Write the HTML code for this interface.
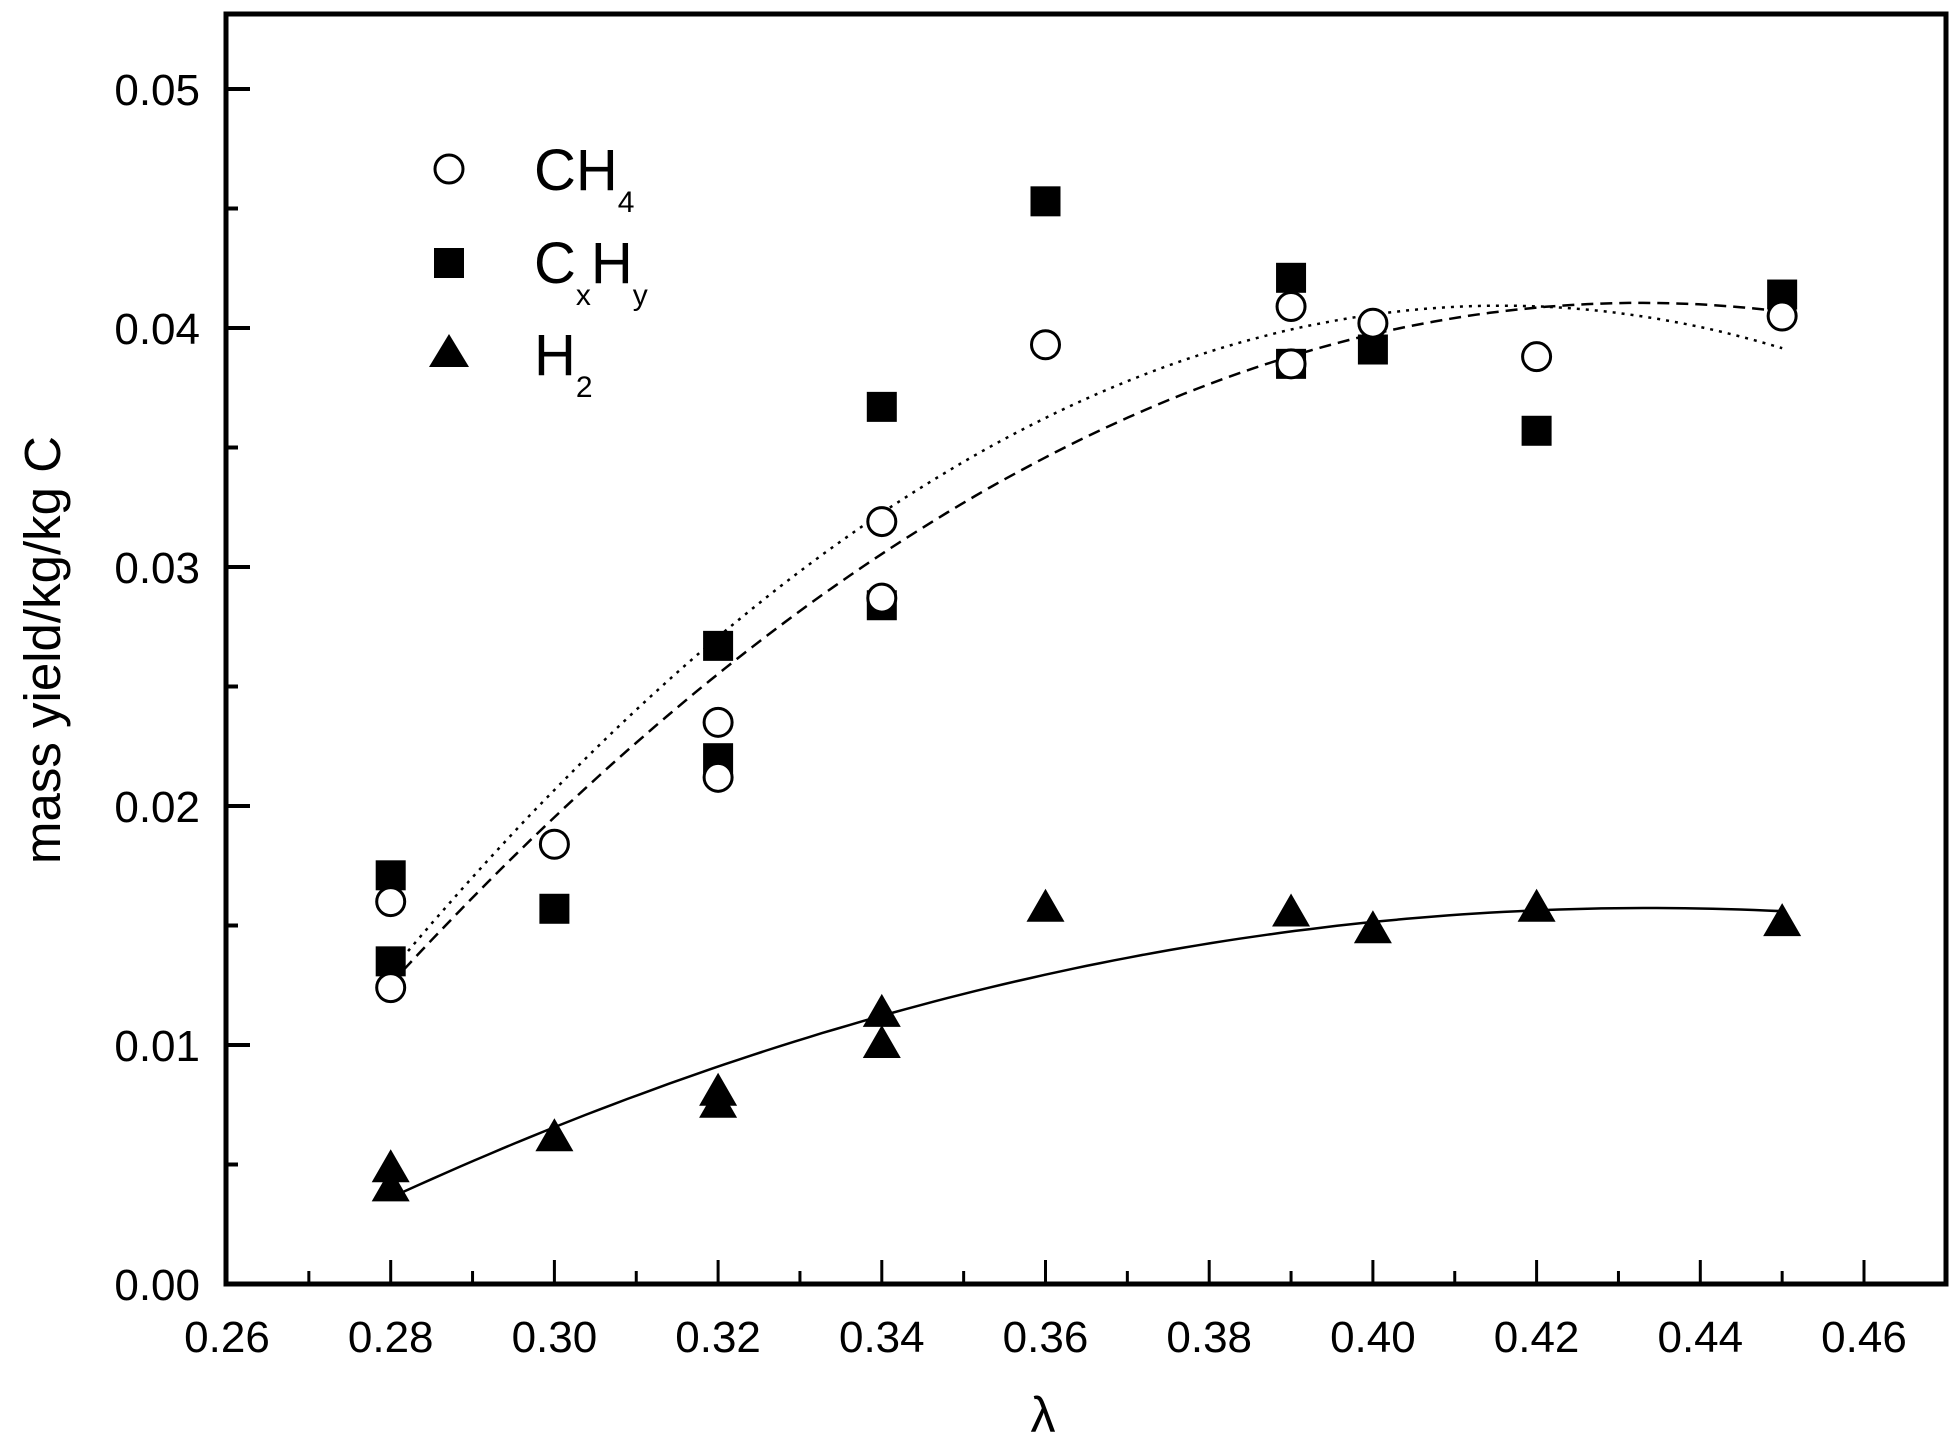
<!DOCTYPE html>
<html><head><meta charset="utf-8"><style>
html,body{margin:0;padding:0;background:#fff;}
svg text{font-family:"Liberation Sans",Arial,sans-serif;fill:#000;}
</style></head><body>
<svg id="chart" width="1953" height="1438" viewBox="0 0 1953 1438" xmlns="http://www.w3.org/2000/svg">
<rect x="0" y="0" width="1953" height="1438" fill="#fff"/>
<g id="axes"></g>
<g id="curves"></g>
<g id="marks"></g>
<text transform="translate(60,650) rotate(-90)" text-anchor="middle" font-size="51">mass yield/kg/kg C</text>
<text x="1043" y="1432" text-anchor="middle" font-size="50">λ</text>
<g>
  <circle cx="449" cy="169" r="14" fill="#fff" stroke="#000" stroke-width="3"/>
  <text x="534" y="190" font-size="58">CH<tspan font-size="30" dy="22">4</tspan></text>
  <rect x="434" y="248" width="30" height="30" fill="#000"/>
  <text x="534" y="283" font-size="58">C<tspan font-size="30" dy="22">x</tspan><tspan dy="-22">H</tspan><tspan font-size="30" dy="22">y</tspan></text>
  <polygon points="449,334 469,367 429,367" fill="#000"/>
  <text x="534" y="375" font-size="58">H<tspan font-size="30" dy="22">2</tspan></text>
</g>
</svg>
<script>
const xsCH4 = [0.28,0.28,0.30,0.32,0.32,0.34,0.34,0.36,0.39,0.39,0.40,0.42,0.45];
const valsCH4 = [0.0160,0.0124,0.0184,0.0235,0.0212,0.0319,0.0287,0.0393,0.0409,0.0385,0.0402,0.0388,0.0405];
const xsCxHy = [0.28,0.28,0.30,0.32,0.32,0.34,0.34,0.36,0.39,0.39,0.40,0.42,0.45];
const valsCxHy = [0.0171,0.0135,0.0157,0.0267,0.0220,0.0367,0.0284,0.0453,0.0421,0.0385,0.0391,0.0357,0.0414];
const xsH2 = [0.28,0.28,0.30,0.32,0.32,0.34,0.34,0.36,0.39,0.40,0.42,0.45];
const valsH2 = [0.0048,0.0040,0.0061,0.0080,0.0075,0.0113,0.0100,0.0157,0.0155,0.0148,0.0157,0.0151];
const xTickLabels = ["0.26","0.28","0.30","0.32","0.34","0.36","0.38","0.40","0.42","0.44","0.46"];
const yTickLabels = ["0.00","0.01","0.02","0.03","0.04","0.05"];

const NS="http://www.w3.org/2000/svg";
const X0=226, XR=1946, YT=14, YB=1284;
function sx(v){return 227+(v-0.26)/0.02*163.7;}
function sy(v){return 1284-v/0.01*239;}
function mk(tag,attrs,parent){const e=document.createElementNS(NS,tag);for(const k in attrs)e.setAttribute(k,attrs[k]);parent.appendChild(e);return e;}
const axes=document.getElementById('axes');
const frame=mk('rect',{x:X0,y:YT,width:XR-X0,height:YB-YT,fill:'none',stroke:'#000','stroke-width':5},axes);


xTickLabels.forEach((t,i)=>{
  const v=parseFloat(t);const x=sx(v);
  const tk=mk('line',{x1:x,y1:YB,x2:x,y2:YB-24,stroke:'#000','stroke-width':3},axes);
  
  
  if(i<xTickLabels.length-1){const xm=sx(v+0.01);
    const mt=mk('line',{x1:xm,y1:YB,x2:xm,y2:YB-13,stroke:'#000','stroke-width':3},axes);
    
    }
  const lb=mk('text',{x:x,y:1352,'text-anchor':'middle','font-size':44},axes);lb.textContent=t;
  
  
});
yTickLabels.forEach((t,i)=>{
  const v=parseFloat(t);const y=sy(v);
  const tk=mk('line',{x1:X0,y1:y,x2:X0+24,y2:y,stroke:'#000','stroke-width':4},axes);
  
  
  const ym=sy(v+0.005);
  const mt=mk('line',{x1:X0,y1:ym,x2:X0+12,y2:ym,stroke:'#000','stroke-width':4},axes);
  
  
  const lb=mk('text',{x:200,y:y+16,'text-anchor':'end','font-size':44},axes);lb.textContent=t;
  
  
});
function quadfit(xs,ys){
  let S=[0,0,0,0,0],T=[0,0,0];
  for(let i=0;i<xs.length;i++){const x=xs[i]-0.36;let p=1;for(let k=0;k<5;k++){S[k]+=p;if(k<3)T[k]+=p*ys[i];p*=x;}}
  const A=[[S[0],S[1],S[2],T[0]],[S[1],S[2],S[3],T[1]],[S[2],S[3],S[4],T[2]]];
  for(let i=0;i<3;i++){for(let j=i+1;j<3;j++){const f=A[j][i]/A[i][i];for(let k=i;k<4;k++)A[j][k]-=f*A[i][k];}}
  const c=[0,0,0];for(let i=2;i>=0;i--){let s=A[i][3];for(let k=i+1;k<3;k++)s-=A[i][k]*c[k];c[i]=s/A[i][i];}
  return x=>c[0]+c[1]*(x-0.36)+c[2]*(x-0.36)**2;
}
const curves=document.getElementById('curves');
function curve(xs,ys,dash,name){
  const f=quadfit(xs,ys);let d='';
  for(let i=0;i<=100;i++){const x=0.28+0.17*i/100;d+=(i?'L':'M')+sx(x).toFixed(1)+','+sy(f(x)).toFixed(1);}
  const p=mk('path',{d:d,fill:'none',stroke:'#000','stroke-width':2.5,'stroke-dasharray':dash},curves);
  
  
}
curve(xsCH4,valsCH4,'12,7','ch4-fit-curve');
curve(xsCxHy,valsCxHy,'3,6','cxhy-fit-curve');
curve(xsH2,valsH2,'none','h2-fit-curve');
const marks=document.getElementById('marks');
xsCxHy.forEach((x,i)=>{const r=mk('rect',{x:sx(x)-15,y:sy(valsCxHy[i])-15,width:30,height:30,fill:'#000'},marks);
  
  });
xsCH4.forEach((x,i)=>{const c=mk('circle',{cx:sx(x),cy:sy(valsCH4[i]),r:14,fill:'#fff',stroke:'#000','stroke-width':3},marks);
  
  });
xsH2.forEach((x,i)=>{const X=sx(x),Y=sy(valsH2[i]);
  const t=mk('polygon',{points:`${X},${Y-20} ${X+19},${Y+13} ${X-19},${Y+13}`,fill:'#000'},marks);
  
  });
</script>
</body></html>
